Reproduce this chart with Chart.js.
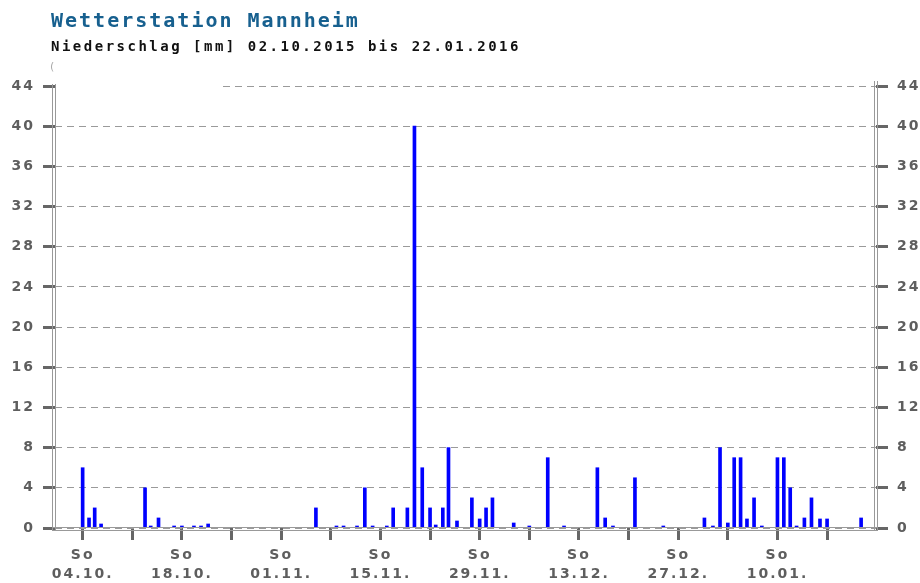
<!DOCTYPE html>
<html>
<head>
<meta charset="utf-8">
<script src="https://cdn.jsdelivr.net/npm/chart.js@4.4.0/dist/chart.umd.min.js"></script>
<style>
  html, body { margin: 0; padding: 0; background: #fff; }
  #wrap { position: relative; width: 920px; height: 583px; }
  #title { position: absolute; left: 51px; top: 10px; font: bold 20px/20px "DejaVu Sans Mono"; letter-spacing: 2px; color: #17608f; white-space: nowrap; }
  #sub { position: absolute; left: 51px; top: 39px; font: bold 14px/14px "DejaVu Sans Mono"; letter-spacing: 2.5px; color: #111; white-space: nowrap; }
  #mark { position: absolute; left: 50px; top: 61px; font: 11px/11px "DejaVu Sans"; color: #aaa; }
  canvas { position: absolute; left: 0; top: 0; }
</style>
</head>
<body>
<div id="wrap">
  <canvas id="rainChart" width="920" height="583"></canvas>
  <div id="title">Wetterstation Mannheim</div>
  <div id="sub">Niederschlag [mm] 02.10.2015 bis 22.01.2016</div>
  <div id="mark">(</div>
</div>
<script>
// Tage ab So 04.10.2015 (0 = 04.10.)
const rainDay = [0.0, 0.9, 1.7, 2.6, 8.8, 9.6, 10.7, 12.9, 14.0, 15.7, 16.7, 17.7,
  32.9, 35.8, 36.8, 38.7, 39.8, 40.9, 42.9, 43.8, 45.8, 46.8, 47.9, 49.0, 49.8, 50.8,
  51.6, 52.8, 54.9, 56.0, 56.9, 57.8, 60.8, 63.0, 65.6, 67.9, 72.6, 73.7, 74.8, 77.9,
  81.9, 87.7, 88.9, 89.9, 91.0, 91.9, 92.8, 93.7, 94.7, 95.8, 98.0, 98.9, 99.8, 100.7,
  101.8, 102.8, 104.0, 105.0, 109.8];
const rainMm = [6, 1, 2, 0.4, 4, 0.2, 1, 0.2, 0.2, 0.2, 0.2, 0.4,
  2, 0.2, 0.2, 0.2, 4, 0.2, 0.2, 2, 2, 40, 6, 2, 0.3, 2,
  8, 0.7, 3, 0.9, 2, 3, 0.5, 0.2, 7, 0.2, 6, 1, 0.2, 5,
  0.2, 1, 0.2, 8, 0.5, 7, 7, 0.9, 3, 0.2, 7, 7, 4, 0.2,
  1, 3, 0.9, 0.9, 1];

const weekTicks = [0, 7, 14, 21, 28, 35, 42, 49, 56, 63, 70, 77, 84, 91, 98, 105];
const weekdayLabels = ["So", "So", "So", "So", "So", "So", "So", "So"];
const dateLabels = ["04.10.", "18.10.", "01.11.", "15.11.", "29.11.", "13.12.", "27.12.", "10.01."];

const tickFont = { family: "DejaVu Sans", size: 14, weight: "bold", lineHeight: 1.33 };
const tickColor = "#5e5e5e";

// Pixelschrift-Optik: etwas Zeichenabstand
const spacing = {
  id: "spacing",
  beforeDraw(chart) {
    chart.ctx.letterSpacing = "2px";
  },
};

// Doppellinien-Rahmen und Lücke oben links
const frame = {
  id: "frame",
  beforeDatasetsDraw(chart) {
    const { ctx, chartArea: a } = chart;
    const yTop = chart.scales.y.getPixelForValue(44);
    ctx.save();
    ctx.fillStyle = "#fff";
    ctx.fillRect(a.left + 1, yTop - 2, 217 - a.left, 4);
    ctx.restore();
  },
  afterDatasetsDraw(chart) {
    const { ctx, chartArea: a } = chart;
    ctx.save();
    ctx.strokeStyle = "#999";
    ctx.lineWidth = 1;
    ctx.beginPath();
    [a.left - 2.5, a.left + 0.5].forEach((x) => {
      ctx.moveTo(x, a.top - 2);
      ctx.lineTo(x, a.bottom + 3);
    });
    [a.right - 1.5, a.right + 1.5].forEach((x) => {
      ctx.moveTo(x, a.top - 5);
      ctx.lineTo(x, a.bottom + 3);
    });
    [a.bottom - 0.5, a.bottom + 2.5].forEach((y) => {
      ctx.moveTo(a.left - 3, y);
      ctx.lineTo(a.right + 2, y);
    });
    ctx.stroke();
    ctx.restore();
  },
};

new Chart(document.getElementById("rainChart").getContext("2d"), {
  type: "bar",
  data: {
    datasets: [
      {
        data: rainDay.map((d, i) => ({ x: d, y: rainMm[i] })),
        backgroundColor: "#0000ff",
        borderWidth: 0,
        barThickness: 3,
      },
    ],
  },
  options: {
    responsive: false,
    animation: false,
    devicePixelRatio: 1,
    layout: { padding: { top: 86, left: 0, right: 0, bottom: 0 } },
    plugins: { legend: { display: false }, tooltip: { enabled: false } },
    scales: {
      x: {
        type: "linear",
        min: -3.9,
        max: 111.9,
        offset: false,
        afterBuildTicks: (s) => { s.ticks = weekTicks.map((v) => ({ value: v })); },
        afterFit: (s) => { s.height = 55; },
        grid: { offset: false, drawOnChartArea: false, tickLength: 12, tickWidth: 3, tickColor: "#666" },
        border: { display: false },
        ticks: {
          autoSkip: false,
          maxRotation: 0,
          padding: 6,
          color: tickColor,
          font: tickFont,
          callback: (v, i) => (i % 2 === 0 ? [weekdayLabels[i / 2], dateLabels[i / 2]] : ""),
        },
      },
      y: {
        position: "left",
        min: 0,
        max: 44,
        afterFit: (s) => { s.width = 55; },
        grid: { color: "#9a9a9a", lineWidth: 1, tickLength: 12, tickWidth: 3, tickColor: "#666" },
        border: { display: false, dash: [7, 5] },
        ticks: { stepSize: 4, padding: 8, color: tickColor, font: tickFont },
      },
      yR: {
        position: "right",
        min: 0,
        max: 44,
        afterFit: (s) => { s.width = 44; },
        grid: { drawOnChartArea: false, tickLength: 12, tickWidth: 3, tickColor: "#666" },
        border: { display: false },
        ticks: { stepSize: 4, padding: 9, color: tickColor, font: tickFont },
      },
    },
  },
  plugins: [spacing, frame],
});
</script>
</body>
</html>
